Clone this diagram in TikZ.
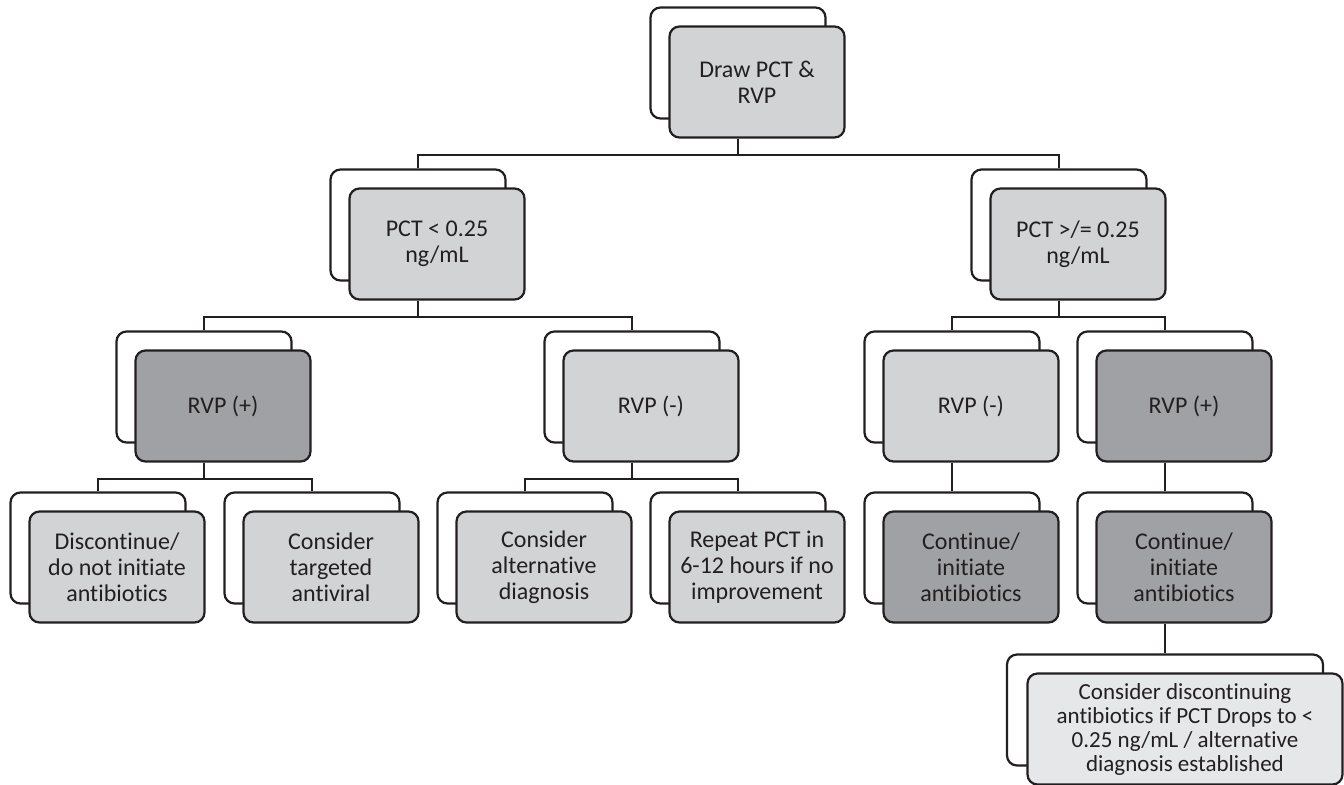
\documentclass[tikz,border=0pt]{standalone}
\usepackage{fontspec}
\setmainfont{Carlito}[Ligatures = NoCommon]
\definecolor{ink}{HTML}{231F20}
\definecolor{lightfill}{HTML}{D1D3D4}
\definecolor{darkfill}{HTML}{A0A1A4}
\definecolor{palefill}{HTML}{E6E7E8}

\begin{document}
\begin{tikzpicture}[x = 0.5pt, y = -0.5pt,
        shadowbox/.style = {draw = ink, line width = 1.1pt, rounded corners = 5pt, fill = white,
            minimum width = 87.5pt, minimum height = 55.5pt, inner sep = 0pt},
        lightbox/.style = {shadowbox, fill = lightfill, text = ink, align = center,
            font = \fontsize{12}{13}\selectfont},
        darkbox/.style = {lightbox, fill = darkfill},
        link/.style = {draw = ink, line width = 1.1pt}]
        \useasboundingbox (0,0) rectangle (1344,784);

        \node [shadowbox] (b0) at (738,63) {};
        \node [lightbox] (f0) at ([shift = {(19,19)}] b0) {Draw PCT \&\\RVP};

        \node [shadowbox] (b1) at (418,225) {};
        \node [lightbox] (f1) at ([shift = {(19,19)}] b1) {PCT < 0.25\\ng/mL};
        \node [shadowbox] (b2) at (1059,225) {};
        \node [lightbox] (f2) at ([shift = {(19,19)}] b2) {PCT >/= 0.25\\ng/mL};

        \node [shadowbox] (b11) at (204,387) {};
        \node [darkbox] (f11) at ([shift = {(19,19)}] b11) {RVP (+)};
        \node [shadowbox] (b12) at (632,387) {};
        \node [lightbox] (f12) at ([shift = {(19,19)}] b12) {RVP (-)};
        \node [shadowbox] (b21) at (952,387) {};
        \node [lightbox] (f21) at ([shift = {(19,19)}] b21) {RVP (-)};
        \node [shadowbox] (b22) at (1165,387) {};
        \node [darkbox] (f22) at ([shift = {(19,19)}] b22) {RVP (+)};

        \node [shadowbox] (b111) at (98,548) {};
        \node [lightbox] (f111) at ([shift = {(19,19)}] b111) {Discontinue/\\do not initiate\\antibiotics};
        \node [shadowbox] (b112) at (312,548) {};
        \node [lightbox] (f112) at ([shift = {(19,19)}] b112) {Consider\\targeted\\antiviral};
        \node [shadowbox] (b121) at (525,548) {};
        \node [lightbox] (f121) at ([shift = {(19,19)}] b121) {Consider\\alternative\\diagnosis};
        \node [shadowbox] (b122) at (738,548) {};
        \node [lightbox] (f122) at ([shift = {(19,19)}] b122) {Repeat PCT in\\6-12 hours if no\\improvement};
        \node [shadowbox] (b211) at (952,548) {};
        \node [darkbox] (f211) at ([shift = {(19,19)}] b211) {Continue/\\initiate\\antibiotics};
        \node [shadowbox] (b221) at (1165,548) {};
        \node [darkbox] (f221) at ([shift = {(19,19)}] b221) {Continue/\\initiate\\antibiotics};

        \node [shadowbox, minimum width = 158pt] (b2211) at (1165,710) {};
        \node [lightbox, fill = palefill, minimum width = 157.5pt, font = \fontsize{11.5}{12}\selectfont]
            (f2211) at ([shift = {(20,19)}] b2211)
            {Consider discontinuing\\antibiotics if PCT Drops to <\\0.25 ng/mL / alternative\\diagnosis established};

        \foreach \p/\c in {0/1, 0/2, 1/11, 1/12, 2/21, 2/22, 11/111, 11/112, 12/121, 12/122, 21/211, 22/221, 221/2211}
            \draw [link] (b\p |- f\p.south) -- ++(0,16) -| (b\c.north);
    \end{tikzpicture}
\end{document}
